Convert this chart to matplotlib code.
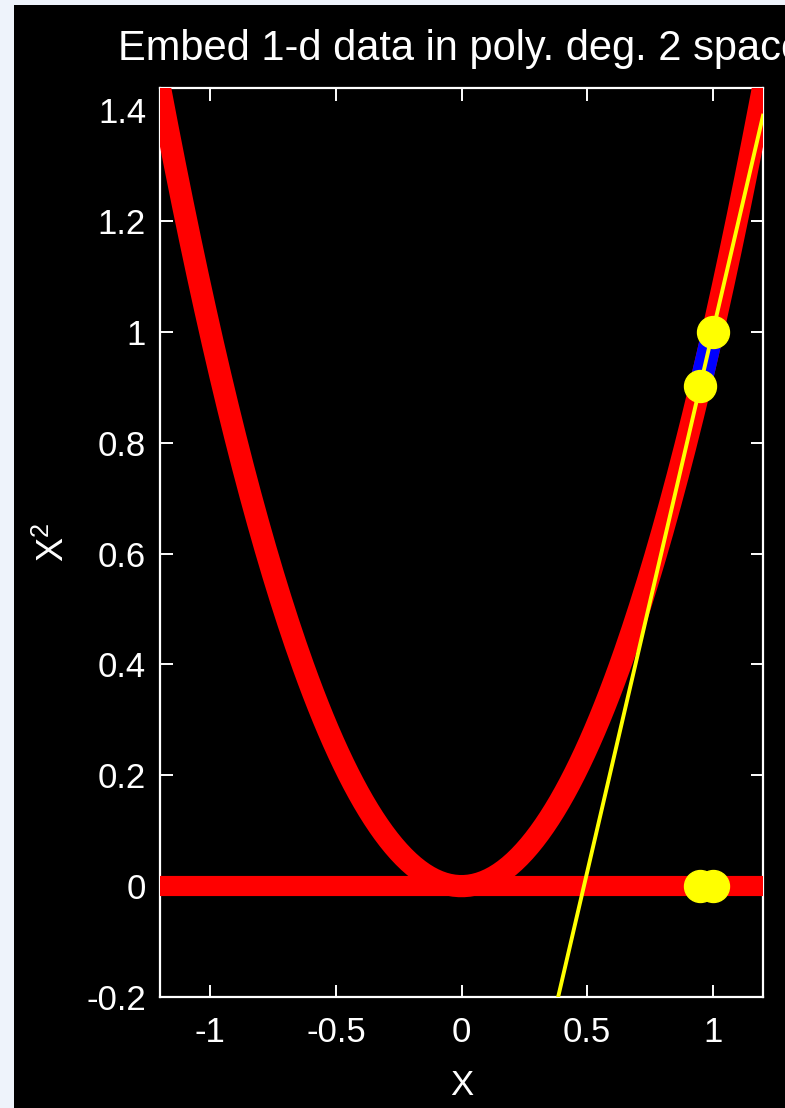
import numpy as np
import matplotlib.pyplot as plt
from matplotlib.patches import Rectangle

plt.rcParams['font.family'] = ['Liberation Sans', 'DejaVu Sans']
plt.rcParams['mathtext.fontset'] = 'custom'
plt.rcParams['mathtext.rm'] = 'Liberation Sans'

# 1-d data and its degree-2 embedding
x_min, x_max = -1.2, 1.2
curve_x = np.linspace(x_min, x_max, 241)
pts_x = np.array([0.95, 1.0])
pts_y = pts_x ** 2

# line through the embedded points
sep_slope = 1.95
sep_intercept = -0.95

x_ticks = [-1, -0.5, 0, 0.5, 1]
x_labels = ['-1', '-0.5', '0', '0.5', '1']
y_ticks = [-0.2, 0, 0.2, 0.4, 0.6, 0.8, 1, 1.2, 1.4]
y_labels = ['-0.2', '0', '0.2', '0.4', '0.6', '0.8', '1', '1.2', '1.4']

fig = plt.figure(figsize=(7.85, 11.08), dpi=100, facecolor='#eef3fb')
fig.patches.append(Rectangle((14 / 785, 0), 1, 1 - 5 / 1108, transform=fig.transFigure,
                             facecolor='black', edgecolor='none', zorder=-10))

ax = fig.add_axes([160 / 785, 111 / 1108, 603 / 785, 909 / 1108])
ax.set_facecolor('black')

ax.plot(curve_x, curve_x ** 2, color='red', lw=16, solid_capstyle='butt', zorder=3)
ax.plot([x_min, x_max], [0, 0], color='red', lw=14.5, solid_capstyle='butt', zorder=3)
seg = np.linspace(pts_x[0], pts_x[1], 20)
ax.plot(seg, seg ** 2, color='#0000ff', lw=16, solid_capstyle='butt', zorder=3)
ax.axline((0, sep_intercept), slope=sep_slope, color='yellow', lw=2.8, zorder=4)
ax.plot(pts_x, pts_y, 'o', ms=23, color='yellow', mec='yellow', zorder=5)
ax.plot(pts_x, np.zeros_like(pts_x), 'o', ms=23, color='yellow', mec='yellow', zorder=5)

ax.set_xlim(x_min, x_max)
ax.set_ylim(-0.2, 1.44)
ax.set_xticks(x_ticks)
ax.set_xticklabels(x_labels)
ax.set_yticks(y_ticks)
ax.set_yticklabels(y_labels)

for s in ax.spines.values():
    s.set_color('white')
    s.set_linewidth(1.6)
ax.tick_params(colors='white', direction='in', length=9, width=1.4,
               top=True, right=True, labelsize=25, pad=10)
ax.tick_params(axis='x', pad=14)

ax.set_title('Embed 1-d data in poly. deg. 2 space', color='white', fontsize=30, pad=20)
ax.set_xlabel('X', color='white', fontsize=25, labelpad=14)
ax.set_ylabel(r'X$^{\mathrm{2}}$', color='white', fontsize=26, labelpad=10)

fig.savefig('out.png', dpi=100, facecolor=fig.get_facecolor())
